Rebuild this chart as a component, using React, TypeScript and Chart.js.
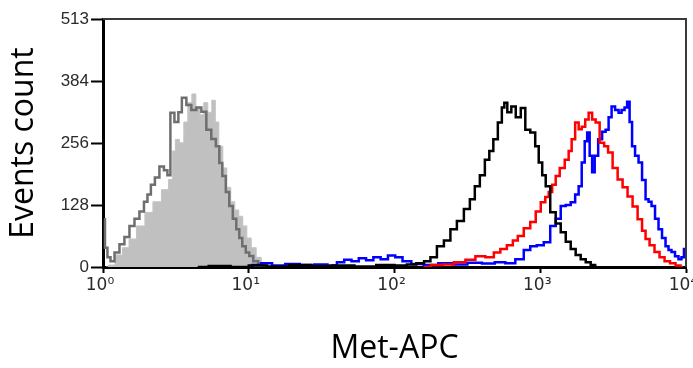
import React, { useEffect, useRef } from "react";
import { Chart, registerables } from "chart.js";

Chart.register(...registerables);

// x positions are log10 of fluorescence intensity (Met-APC), y are event counts
const xTickLabels = ["10⁰", "10¹", "10²", "10³", "10⁴"];
const xTickValues = [1, 10, 100, 1000, 10000];
const yTickValues = [0, 128, 256, 384, 513];

// Unstained / isotype control (filled light gray)
const isoFillLog = [0.021, 0.055, 0.11, 0.158, 0.199, 0.26, 0.315, 0.37, 0.432, 0.466, 0.486, 0.507, 0.541, 0.568, 0.596, 0.623, 0.651, 0.678, 0.705, 0.733, 0.76, 0.781, 0.808, 0.836, 0.863, 0.89, 0.918, 0.945, 0.973, 1.0, 1.034, 1.068, 1.103, 1.137];
const isoFillCounts = [0, 4, 25, 40, 58, 85, 113, 135, 160, 181, 240, 264, 257, 300, 340, 358, 330, 315, 340, 320, 345, 300, 250, 205, 165, 135, 118, 105, 85, 60, 40, 20, 6, 0];

// Second control (dark gray outline)
const ctrlLog = [0.007, 0.02, 0.041, 0.062, 0.096, 0.13, 0.164, 0.199, 0.233, 0.267, 0.295, 0.315, 0.342, 0.37, 0.404, 0.432, 0.452, 0.473, 0.507, 0.527, 0.555, 0.589, 0.623, 0.658, 0.692, 0.726, 0.76, 0.788, 0.808, 0.829, 0.856, 0.877, 0.904, 0.925, 0.945, 0.966, 0.993, 1.014, 1.048, 1.082, 1.116];
const ctrlCounts = [99, 40, 20, 12, 30, 47, 62, 85, 100, 115, 135, 150, 170, 185, 208, 200, 190, 319, 300, 320, 350, 335, 325, 330, 321, 284, 265, 250, 215, 188, 155, 126, 100, 78, 60, 43, 30, 23, 12, 6, 0];

// Black histogram
const blackLog = [0.65, 0.8, 0.95, 1.05, 1.2, 1.35, 1.5, 1.65, 1.8, 1.95, 2.05, 2.12, 2.18, 2.226, 2.267, 2.315, 2.363, 2.404, 2.452, 2.5, 2.534, 2.568, 2.603, 2.637, 2.664, 2.692, 2.726, 2.747, 2.76, 2.788, 2.815, 2.849, 2.884, 2.911, 2.952, 2.979, 3.0, 3.027, 3.048, 3.089, 3.123, 3.158, 3.192, 3.226, 3.26, 3.295, 3.329, 3.363, 3.39];
const blackCounts = [0, 2, 0, 3, 1, 4, 2, 3, 1, 4, 3, 5, 8, 12, 20, 43, 55, 78, 95, 120, 140, 167, 190, 222, 240, 264, 299, 330, 340, 320, 332, 310, 329, 284, 278, 250, 216, 190, 167, 113, 90, 72, 52, 37, 25, 16, 10, 4, 0];

// Red histogram
const redLog = [2.2, 2.3, 2.363, 2.452, 2.521, 2.589, 2.658, 2.705, 2.747, 2.795, 2.829, 2.863, 2.911, 2.952, 2.986, 3.021, 3.048, 3.068, 3.096, 3.116, 3.151, 3.185, 3.205, 3.226, 3.253, 3.274, 3.295, 3.322, 3.342, 3.37, 3.39, 3.425, 3.452, 3.479, 3.514, 3.548, 3.582, 3.616, 3.651, 3.685, 3.712, 3.733, 3.767, 3.801, 3.836, 3.87, 3.911, 3.945, 3.979];
const redCounts = [0, 4, 5, 10, 15, 22, 20, 30, 37, 45, 55, 64, 80, 93, 115, 134, 145, 155, 170, 188, 205, 222, 240, 264, 299, 285, 290, 305, 319, 305, 299, 257, 250, 237, 205, 181, 165, 146, 125, 99, 75, 58, 45, 31, 20, 12, 8, 3, 0];

// Blue histogram
const blueLog = [1.0, 1.05, 1.12, 1.2, 1.3, 1.4, 1.5, 1.58, 1.63, 1.68, 1.73, 1.78, 1.83, 1.88, 1.93, 1.98, 2.03, 2.08, 2.15, 2.25, 2.35, 2.45, 2.55, 2.65, 2.726, 2.795, 2.863, 2.911, 2.952, 3.0, 3.048, 3.089, 3.123, 3.158, 3.192, 3.226, 3.253, 3.274, 3.295, 3.315, 3.329, 3.349, 3.363, 3.384, 3.411, 3.438, 3.459, 3.479, 3.5, 3.527, 3.548, 3.568, 3.589, 3.603, 3.623, 3.637, 3.664, 3.685, 3.712, 3.733, 3.753, 3.774, 3.801, 3.822, 3.849, 3.87, 3.89, 3.911, 3.938, 3.959, 3.979, 3.993];
const blueCounts = [0, 4, 8, 3, 6, 4, 5, 3, 10, 15, 12, 18, 14, 20, 16, 24, 20, 12, 6, 4, 8, 5, 9, 7, 10, 8, 16, 35, 43, 45, 51, 85, 100, 126, 128, 134, 150, 167, 216, 260, 278, 230, 196, 230, 264, 280, 284, 310, 332, 325, 319, 325, 330, 342, 300, 250, 230, 216, 180, 140, 135, 126, 100, 78, 60, 43, 35, 31, 22, 16, 20, 37];

const toPoints = (logs: number[], counts: number[]) =>
  logs.map((e, i) => ({ x: Math.pow(10, e), y: counts[i] }));

const framePlugin = {
  id: "frame",
  afterDraw(chart: any) {
    const { ctx, chartArea } = chart;
    ctx.save();
    ctx.strokeStyle = "#3a3a3a";
    ctx.lineWidth = 2;
    ctx.beginPath();
    ctx.moveTo(chartArea.left, chartArea.top);
    ctx.lineTo(chartArea.right, chartArea.top);
    ctx.lineTo(chartArea.right, chartArea.bottom);
    ctx.stroke();
    ctx.restore();
  },
};

const tickFont = "'Liberation Sans', 'DejaVu Sans', Arial";

export default function App() {
  const ref = useRef<HTMLCanvasElement | null>(null);
  useEffect(() => {
    if (!ref.current) return;
    const common = { pointRadius: 0, borderWidth: 2.5, stepped: "middle" as const, tension: 0 };
    const chart = new Chart(ref.current, {
      type: "line",
      data: {
        datasets: [
          { ...common, label: "Black", data: toPoints(blackLog, blackCounts), borderColor: "#000000", order: 1 },
          { ...common, label: "Red", data: toPoints(redLog, redCounts), borderColor: "#ff0000", order: 2 },
          { ...common, label: "Blue", data: toPoints(blueLog, blueCounts), borderColor: "#0000ff", order: 3 },
          { ...common, label: "Control", data: toPoints(ctrlLog, ctrlCounts), borderColor: "#6e6e6e", order: 4 },
          { ...common, label: "Isotype", data: toPoints(isoFillLog, isoFillCounts), borderColor: "#c4c4c4", borderWidth: 1, backgroundColor: "#c0c0c0", fill: "origin", order: 5 },
        ],
      },
      plugins: [framePlugin],
      options: {
        animation: false,
        responsive: false,
        events: [],
        layout: { padding: { top: 19, right: 7, left: 0, bottom: 0 } },
        plugins: { legend: { display: false }, tooltip: { enabled: false } },
        scales: {
          x: {
            type: "logarithmic",
            min: 1,
            max: 10000,
            z: 1,
            afterBuildTicks: (s: any) => {
              s.ticks = xTickValues.map((v) => ({ value: v }));
            },
            afterFit: (s: any) => {
              s.height = 101;
              s.paddingLeft = 0;
              s.paddingRight = 0;
            },
            ticks: {
              autoSkip: false,
              maxRotation: 0,
              minRotation: 0,
              padding: 2,
              labelOffset: -3,
              color: "#2a2a2a",
              font: { family: "'DejaVu Sans', Arial", size: 17 },
              callback: (_v: any, i: number) => xTickLabels[i],
            },
            grid: { drawOnChartArea: false, drawTicks: true, tickLength: 6, tickColor: "#000", tickWidth: 2 },
            border: { display: true, color: "#000", width: 3 },
            title: {
              display: true,
              text: "Met-APC",
              color: "#000",
              font: { family: "'Open Sans'", size: 32 },
              padding: { top: 0, bottom: 0 },
            },
          },
          y: {
            type: "linear",
            min: 0,
            max: 513,
            z: 1,
            afterBuildTicks: (s: any) => {
              s.ticks = yTickValues.map((v) => ({ value: v }));
            },
            afterFit: (s: any) => {
              s.width = 103;
              s.paddingTop = 0;
              s.paddingBottom = 0;
            },
            ticks: {
              padding: 2,
              color: "#2a2a2a",
              font: { family: tickFont, size: 17 },
            },
            grid: { drawOnChartArea: false, drawTicks: true, tickLength: 12, tickColor: "#000", tickWidth: 2 },
            border: { display: true, color: "#000", width: 3 },
            title: {
              display: true,
              text: "Events count",
              color: "#000",
              font: { family: "'Open Sans'", size: 32 },
              padding: { top: 5, bottom: 0 },
            },
          },
        },
      },
    } as any);
    return () => chart.destroy();
  }, []);
  return (
    <div style={{ position: "fixed", left: 0, top: 0, width: 693, height: 368, background: "#fff" }}>
      <canvas ref={ref} width={693} height={368} style={{ display: "block" }} />
    </div>
  );
}
